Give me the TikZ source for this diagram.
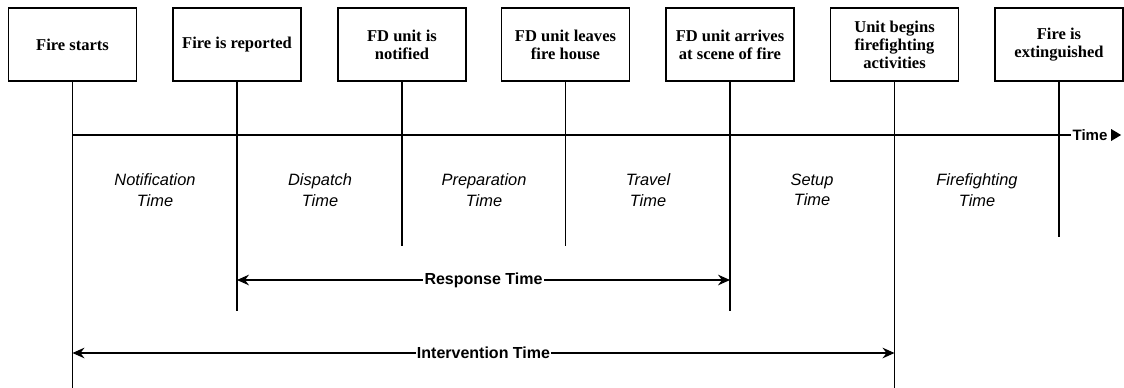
\documentclass[tikz,border=0pt]{standalone}
\usepackage{fontspec}
\setmainfont{Liberation Serif}
\setsansfont{Liberation Sans}
\usetikzlibrary{arrows.meta, calc, positioning}
\tikzset{>={Stealth[length=9pt, width=8pt, inset=3pt]}}
\tikzset{
  event/.style={draw, line width=1.1pt, minimum width=96pt, minimum height=54.75pt,
    inner sep=1pt, align=center, font=\fontsize{12.4}{13.4}\selectfont\bfseries},
  phase/.style={align=center, font=\sffamily\itshape\fontsize{12.3}{15.5}\selectfont},
  span/.style={fill=white, inner sep=1pt, font=\sffamily\bfseries\fontsize{12}{14}\selectfont},
  mark line/.style={line width=0.8pt},
}

\begin{document}
\begin{tikzpicture}[x=0.75pt, y=-0.75pt]
\useasboundingbox (0,0) rectangle (1124,387);
% events along the top
\node[event] (start)  at (72.5,44.5)  {Fire starts};
\node[event] (report) at (237,44.5)   {Fire is reported};
\node[event] (notify) at (402,44.5)   {FD unit is\\notified};
\node[event] (leave)  at (565.5,44.5) {FD unit leaves\\fire house};
\node[event] (arrive) at (730,44.5)   {FD unit arrives\\at scene of fire};
\node[event] (begin)  at (894.5,44.5) {Unit begins\\firefighting\\activities};
\node[event] (out)    at (1059,44.5)  {Fire is\\extinguished};

% drop lines from each event
\foreach \n/\len in {start/306, report/229, notify/164, leave/164, arrive/229, begin/306, out/155}
  \draw[mark line] (\n.south) -- ++(0,\len);

% time axis
\coordinate (axis) at (0,135);
\node[anchor=west, inner sep=1pt, font=\sffamily\bfseries\fontsize{11.3}{13}\selectfont] (time) at (1071,135) {Time};
\draw[mark line] (start.south |- axis) -- (time.west);
\fill ([xshift=1.5pt]time.east) -- ++(0,-6) -- ++(10,6) -- ++(-10,6) -- cycle;

% phases between events
\node[phase] (notif) at (155,190)   {Notification\\Time};
\node[phase] (disp)  at (320,190)   {Dispatch\\Time};
\node[phase] (prep)  at (484,190)   {Preparation\\Time};
\node[phase] (trav)  at (648,190)   {Travel\\Time};
\node[phase] (setup) at (812,190)   {Setup\\Time};
\node[phase] (fight) at (977,190)   {Firefighting\\Time};

% spans
\coordinate (resp) at (0,280);
\coordinate (interv) at (0,353);
\draw[mark line, <->] (report.south |- resp) -- (arrive.south |- resp)
  node[span, midway] {Response Time};
\draw[mark line, <->] (start.south |- interv) -- (begin.south |- interv)
  node[span, midway] {Intervention Time};
\end{tikzpicture}
\end{document}
